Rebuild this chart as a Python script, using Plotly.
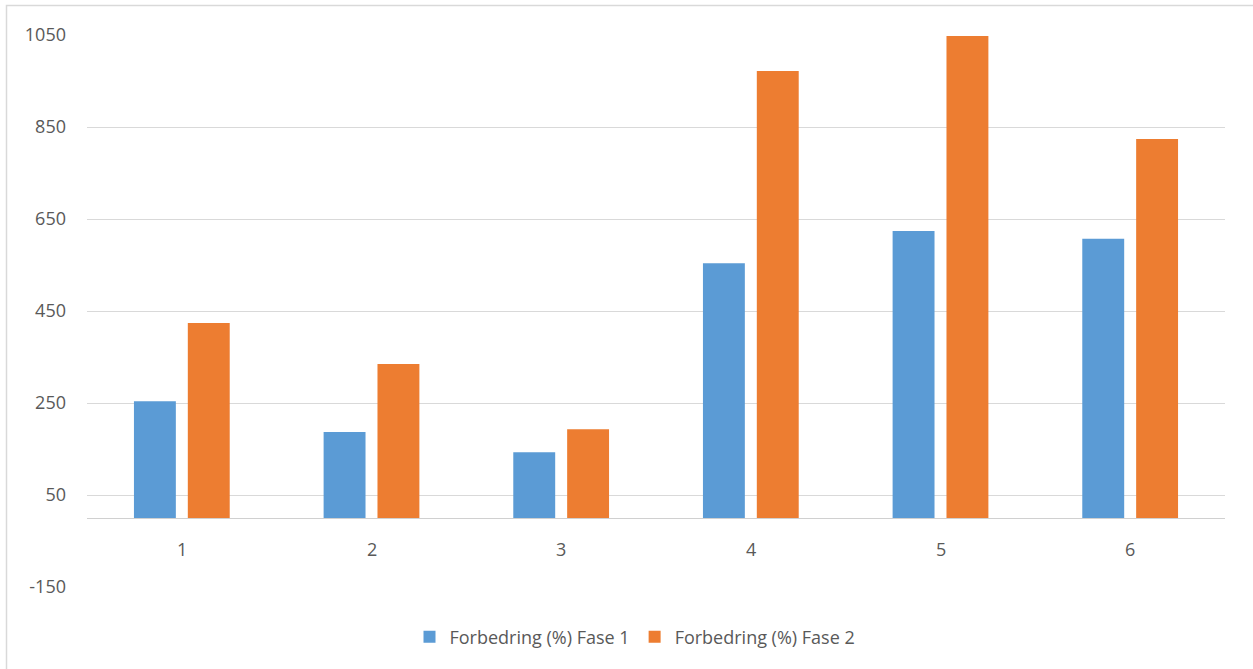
import plotly.graph_objects as go

categories = ["1", "2", "3", "4", "5", "6"]
fase1 = [254, 187, 143, 554, 624, 607]
fase2 = [424, 335, 193, 972, 1048, 824]
tick_vals = [-150, 50, 250, 450, 650, 850, 1050]

W, H = 1253, 669
L, R, T, B = 87, 28, 35, 82
pw, ph = W - L - R, H - T - B

def px_x(p):
    return (p - L) / pw

def px_y(p):
    return (H - B - p) / ph

fig = go.Figure()
fig.add_trace(go.Bar(x=categories, y=fase1, name="Forbedring (%) Fase 1",
                     marker=dict(color="#5B9BD5", line=dict(width=0))))
fig.add_trace(go.Bar(x=categories, y=fase2, name="Forbedring (%) Fase 2",
                     marker=dict(color="#ED7D31", line=dict(width=0))))

font = dict(family="Open Sans, Liberation Sans, sans-serif", size=18, color="#595959")

annotations = []
for i, c in enumerate(categories):
    annotations.append(dict(x=i, y=0, xref="x", yref="y", text=c, showarrow=False,
                            yshift=-31, font=font))

fig.update_layout(
    width=W, height=H,
    margin=dict(l=L, r=R, t=T, b=B),
    paper_bgcolor="white", plot_bgcolor="white",
    barmode="group", bargap=0.432, bargroupgap=0.222,
    font=font,
    xaxis=dict(type="category", range=[-0.5, len(categories) - 0.5], showticklabels=False,
               showgrid=False, zeroline=False, showline=False, ticks=""),
    yaxis=dict(range=[-150, 1050], tickvals=tick_vals, ticktext=[str(v) for v in tick_vals],
               showgrid=True, gridcolor="#d9d9d9", gridwidth=1,
               zeroline=True, zerolinecolor="#d0d0d0", zerolinewidth=1,
               showline=False, ticks="", ticklabelstandoff=20, tickfont=font),
    legend=dict(orientation="h", x=px_x(635), xanchor="center", y=px_y(637), yanchor="middle",
                font=font, itemwidth=30, traceorder="normal"),
    annotations=annotations,
    shapes=[dict(type="rect", xref="paper", yref="paper",
                 x0=px_x(6.5), x1=px_x(1262), y0=px_y(680), y1=px_y(5.5),
                 line=dict(color="#d9d9d9", width=1.5), layer="below")],
)

fig.write_html("out.html")
